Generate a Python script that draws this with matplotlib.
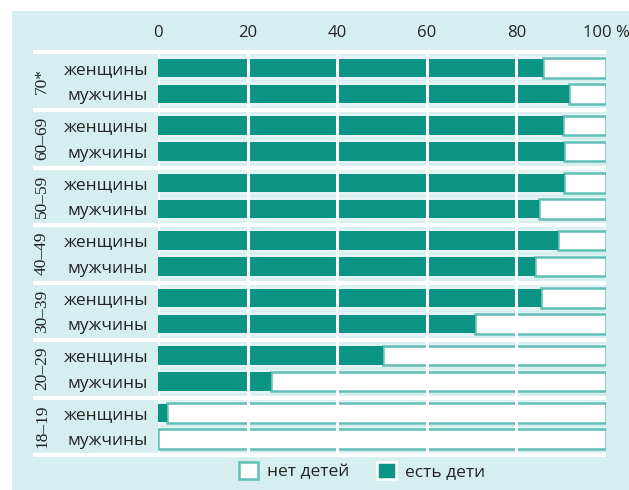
import matplotlib
matplotlib.use("Agg")
import matplotlib.pyplot as plt
from matplotlib.patches import Patch, Rectangle

ages = ["70*", "60–69", "50–59", "40–49", "30–39", "20–29", "18–19"]
sexes = ["женщины", "мужчины"]
# share with children, % (women, men) per age group
with_kids_w = [86, 90.3, 90.6, 89.2, 85.5, 50.2, 2]
with_kids_m = [91.7, 90.6, 85, 84.2, 70.8, 25.2, 0]
ticks = [0, 20, 40, 60, 80, 100]
tick_labels = ["0", "20", "40", "60", "80", "100 %"]

teal = "#0b9384"
edge = "#5fbfb5"
panel = "#d7eef0"
band = "#e4f3f4"

plt.rcParams["font.family"] = ["Open Sans", "DejaVu Sans"]

fig = plt.figure(figsize=(6.29, 4.90), dpi=100)
fig.patches.append(Rectangle((12 / 629, 0), 1, 1 - 11 / 490, transform=fig.transFigure,
                             facecolor=panel, edgecolor="none", zorder=-10))

ax = fig.add_axes([158 / 629, 35 / 490, 448 / 629, 403 / 490])
ax.set_facecolor("none")

# row layout in units of one row pitch
group_pitch = 57.5 / 26
first = 16 / 26
ypos, ylabels = [], []
for g in range(len(ages)):
    for k in range(2):
        ypos.append(first + g * group_pitch + k)
        ylabels.append(sexes[k])

vals = []
for w, m in zip(with_kids_w, with_kids_m):
    vals += [w, m]

ax.barh(ypos, [100] * len(ypos), height=0.9, color=band, zorder=0)
for x in ticks[:-1]:
    ax.axvline(x, color="white", lw=2.2, zorder=1)
ax.barh(ypos, [100 - v for v in vals], left=vals, height=0.74,
        color="white", edgecolor=edge, lw=1.8, zorder=2)
ax.barh(ypos, vals, height=0.72, color=teal, zorder=3)
for x in ticks[1:-1]:
    ax.vlines(x, 0, 15.5, color="white", lw=2.2, zorder=4)

# group separators and age labels
seps = [0] + [first + g * group_pitch + 1 + 16 / 26 for g in range(len(ages))]
seps[-1] = 15.5
for s in seps:
    ax.plot([-27.9, 100], [s, s], color="white", lw=3, clip_on=False, zorder=5,
            solid_capstyle="butt")
for g, a in enumerate(ages):
    ax.text(-25.9, first + g * group_pitch + 0.5, a, rotation=90, ha="center", va="center",
            fontsize=12.5, family=["Liberation Serif", "DejaVu Serif"], color="#222222")

ax.set_xlim(0, 100)
ax.set_ylim(15.5, 0)
ax.set_yticks(ypos)
ax.set_yticklabels(ylabels, fontsize=12.5, color="#222222")
ax.set_xticks(ticks)
ax.set_xticklabels(tick_labels, fontsize=12, color="#222222")
ax.xaxis.tick_top()
ax.tick_params(length=0)
ax.tick_params(axis="y", pad=7)
ax.tick_params(axis="x", pad=8)
for sp in ax.spines.values():
    sp.set_visible(False)

handles = [Patch(facecolor="white", edgecolor=edge, lw=1.8, label="нет детей"),
           Patch(facecolor=teal, edgecolor="white", lw=1.8, label="есть дети")]
fig.legend(handles=handles, loc="center", bbox_to_anchor=(362 / 629, 1 - 471 / 490), ncol=2,
           frameon=False, fontsize=12.5, handlelength=1.1, handleheight=1.1,
           handletextpad=0.5, columnspacing=1.6, labelcolor="#222222")

fig.savefig("out.png", dpi=100)
